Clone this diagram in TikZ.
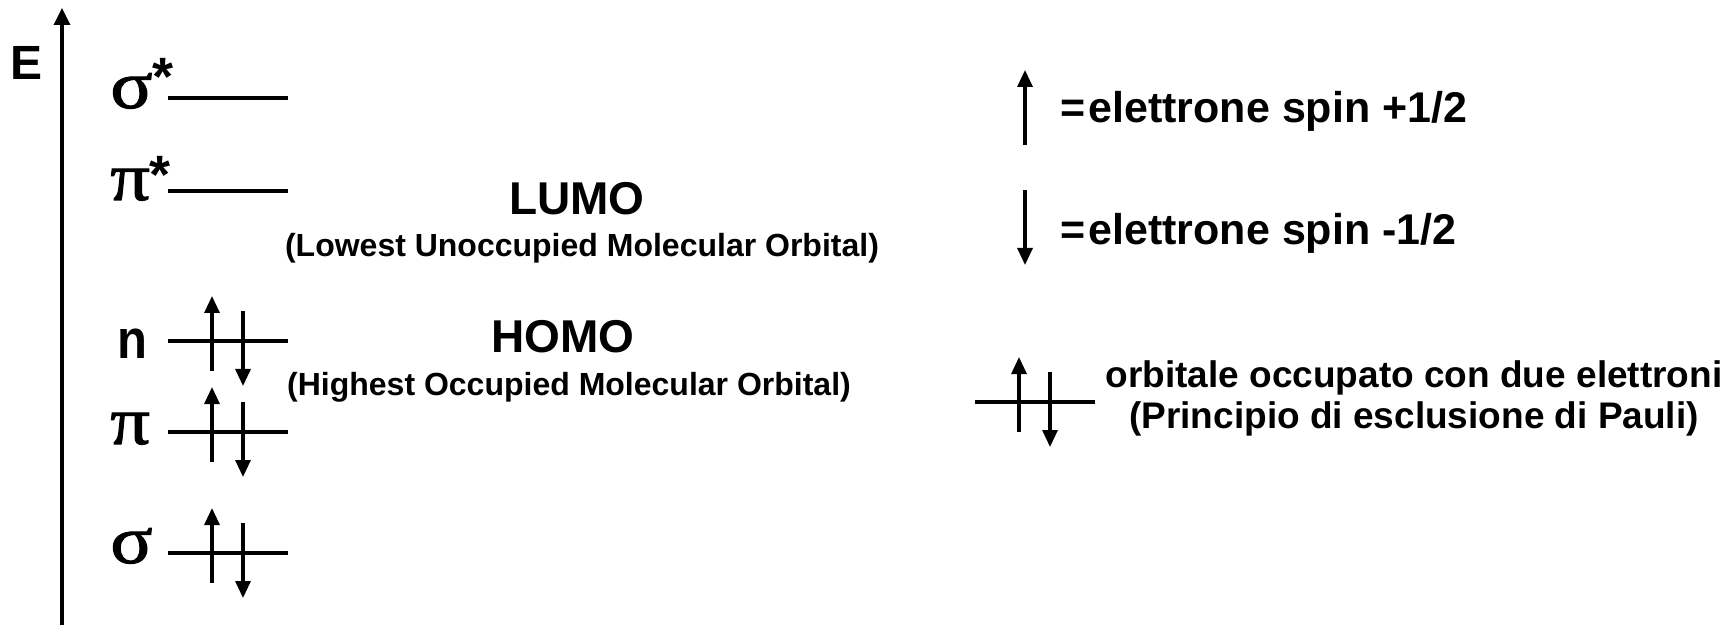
\documentclass[tikz,border=0pt]{standalone}
\usepackage{fontspec}
\setmainfont{Liberation Sans}
\newfontfamily\greekfont[FakeBold=1.5,AutoFakeBold=1.5]{Liberation Serif}
\usetikzlibrary{arrows.meta}
\tikzset{
  lvl/.style={line width=1.7pt},
  elec/.style={line width=1.6pt,-{Triangle[length=8.5pt,width=7.5pt]}},
  axisline/.style={line width=1.7pt,-{Triangle[length=8.5pt,width=8pt]}},
  greeklbl/.style={anchor=base west,inner sep=0pt,font=\greekfont\bfseries\fontsize{34}{34}\selectfont},
  starlbl/.style={anchor=base west,inner sep=0pt,font=\bfseries\fontsize{27}{27}\selectfont},
  bigtxt/.style={anchor=base,inner sep=0pt,font=\bfseries\fontsize{23}{23}\selectfont},
  subtxt/.style={anchor=base,inner sep=0pt,font=\bfseries\fontsize{16}{16}\selectfont},
  spintxt/.style={anchor=base west,inner sep=0pt,font=\bfseries\fontsize{21.5}{21.5}\selectfont},
  orbtxt/.style={anchor=base,inner sep=0pt,font=\bfseries\fontsize{18.5}{18.5}\selectfont},
  paired/.pic={
    \coordinate (-l) at (0,0);
    \coordinate (-r) at (120,0);
    \coordinate (-ua) at (44,30);
    \coordinate (-ub) at (44,-45);
    \coordinate (-da) at (75,-30);
    \coordinate (-db) at (75,45);
    \draw[lvl] (-l) -- (-r);
    \draw[elec] (-ua) -- (-ub);
    \draw[elec] (-da) -- (-db);
  }
}
\newcommand{\wideglyph}[1]{\scalebox{1.15}[1]{#1}}
\begin{document}
\begin{tikzpicture}[x=0.5pt,y=-0.5pt]
\useasboundingbox (0,0) rectangle (1733,625);
% energy axis
\coordinate (axb) at (62,627);
\coordinate (axt) at (62,8);
\draw[axisline] (axb) -- (axt);
\node[anchor=base,inner sep=0pt,font=\bfseries\fontsize{24}{24}\selectfont] (E) at (27,80) {E};
% empty levels
\coordinate (ss1) at (168,98);
\coordinate (ss2) at (288,98);
\draw[lvl] (ss1) -- (ss2);
\coordinate (ps1) at (168,191);
\coordinate (ps2) at (288,191);
\draw[lvl] (ps1) -- (ps2);
% filled levels
\pic (nlev) at (168,341) {paired};
\pic (plev) at (168,432) {paired};
\pic (slev) at (168,553) {paired};
% labels
\node[greeklbl] (lss) at (110,108) {\wideglyph{σ}};
\node[starlbl] (lssx) at (152,96) {*};
\node[greeklbl] (lps) at (110,200) {\wideglyph{π}};
\node[starlbl] (lpsx) at (149,194) {*};
\node[anchor=base east,inner sep=0pt,font=\bfseries\fontsize{24.5}{24.5}\selectfont] (ln) at (148,358) {\scalebox{1}[1.12]{n}};
\node[greeklbl] (lp) at (110,444) {\wideglyph{π}};
\node[greeklbl] (ls) at (110,563) {\wideglyph{σ}};
% LUMO / HOMO
\node[bigtxt] (lumo) at (577,215) {LUMO};
\node[subtxt] (lumod) at (582,257) {(Lowest Unoccupied Molecular Orbital)};
\node[bigtxt] (homo) at (563,353) {HOMO};
\node[subtxt] (homod) at (569,395) {(Highest Occupied Molecular Orbital)};
% legend spins
\coordinate (su1) at (1025,145);
\coordinate (su2) at (1025,70);
\draw[elec] (su1) -- (su2);
\coordinate (sd1) at (1025,190);
\coordinate (sd2) at (1025,265);
\draw[elec] (sd1) -- (sd2);
\node[spintxt] (plus) at (1060,123) {=\hspace{1.5pt}elettrone spin +1/2};
\node[spintxt] (minus) at (1060,245) {=\hspace{1.5pt}elettrone spin -1/2};
% legend pair
\pic (leg) at (975,402) {paired};
\node[orbtxt] (orb1) at (1414,387) {orbitale occupato con due elettroni};
\node[orbtxt] (orb2) at (1414,428) {(Principio di esclusione di Pauli)};
\end{tikzpicture}
\end{document}
